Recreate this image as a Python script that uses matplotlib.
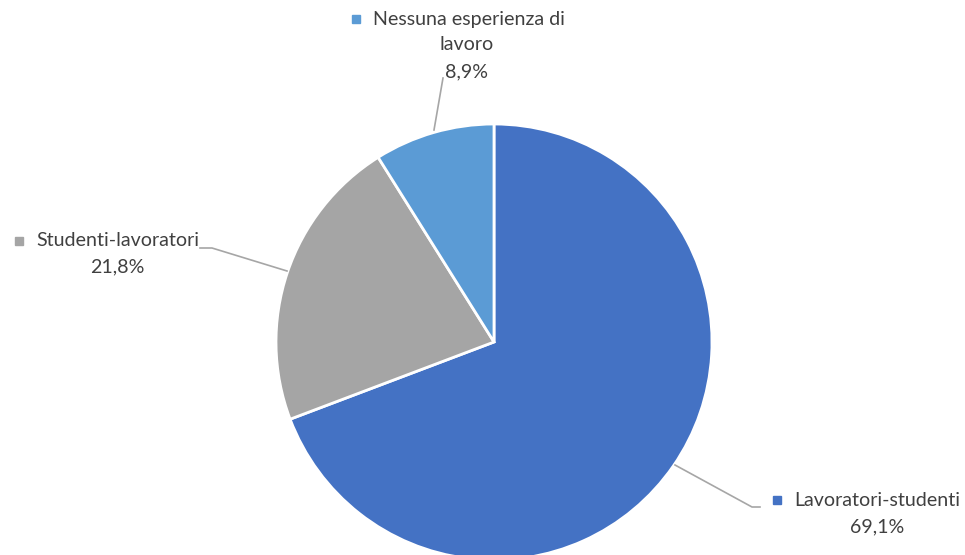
import matplotlib
matplotlib.use("Agg")
import matplotlib.pyplot as plt

categories = ["Lavoratori-studenti", "Studenti-lavoratori", "Nessuna esperienza di\nlavoro"]
values = [69.1, 21.8, 8.9]
value_labels = ["69,1%", "21,8%", "8,9%"]
colors = ["#4472C4", "#A5A5A5", "#5B9BD5"]

W, H = 965, 555
fig = plt.figure(figsize=(W / 100, H / 100), dpi=100)
ax = fig.add_axes([0, 0, 1, 1])
ax.set_xlim(0, W)
ax.set_ylim(0, H)
ax.set_aspect("equal")
ax.axis("off")

def Y(p):
    return H - p

cx, cy, r = 494, Y(342), 218
ax.pie(values, colors=colors, startangle=90, counterclock=False, center=(cx, cy), radius=r,
       wedgeprops=dict(edgecolor="white", linewidth=2), frame=True)
ax.set_xlim(0, W)
ax.set_ylim(0, H)
ax.axis("off")

tc = "#404040"
lc = "#A6A6A6"
fs = 14.1
font = "Lato"

# Leader lines
ax.plot([675, 752, 760], [Y(465), Y(507), Y(507)], color=lc, lw=1.2)
ax.plot([287, 212, 200], [Y(271), Y(248), Y(248)], color=lc, lw=1.2)
ax.plot([434, 443], [Y(130), Y(78)], color=lc, lw=1.2)

def label(xsq, ysq, text, xt, yt, pct, xp, yp, color):
    ax.plot([xsq], [Y(ysq)], marker="s", ms=5.5, color=color, mec=color)
    ax.text(xt, Y(yt), text, ha="left", va="center", fontsize=fs, color=tc, family=font)
    ax.text(xp, Y(yp), pct, ha="center", va="center", fontsize=fs, color=tc, family=font)

# Lavoratori-studenti
label(777, 500, categories[0], 794, 500, value_labels[0], 877, 527, colors[0])
# Studenti-lavoratori
label(19, 241, categories[1], 36, 241, value_labels[1], 117, 267, colors[1])
# Nessuna esperienza
name_lines = categories[2].split("\n")
ax.plot([356], [Y(19)], marker="s", ms=5.5, color=colors[2], mec=colors[2])
ax.text(373, Y(19), name_lines[0], ha="left", va="center", fontsize=fs, color=tc, family=font)
ax.text(467, Y(45), name_lines[1], ha="center", va="center", fontsize=fs, color=tc, family=font)
ax.text(467, Y(72), value_labels[2], ha="center", va="center", fontsize=fs, color=tc, family=font)

fig.savefig("out.png", dpi=100, facecolor="white")
